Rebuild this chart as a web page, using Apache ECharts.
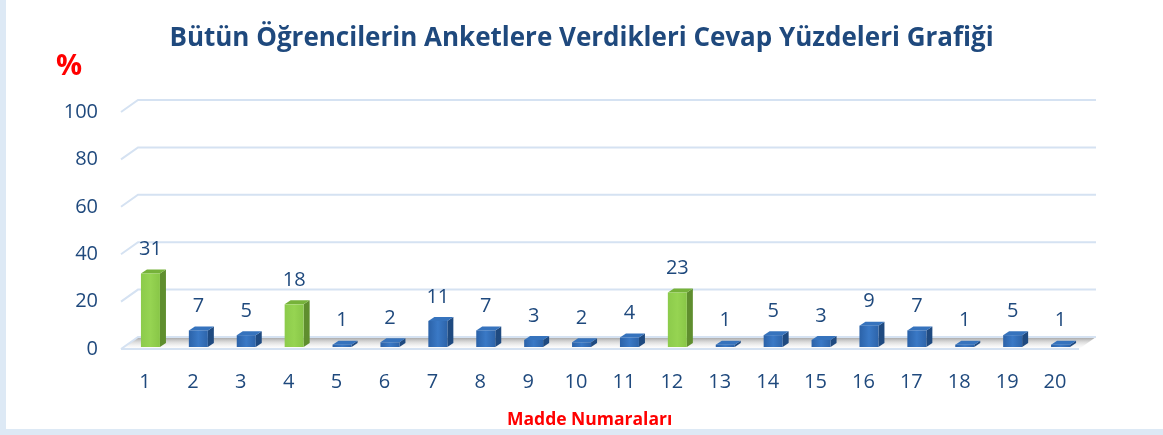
<!DOCTYPE html>
<html>
<head>
<meta charset="utf-8">
<script src="https://cdn.jsdelivr.net/npm/echarts@6/dist/echarts.min.js"></script>
<style>
  html, body { margin: 0; padding: 0; background: #fff; }
  #chart { width: 1163px; height: 435px; }
</style>
</head>
<body>
<div id="chart"></div>
<script>
// madde numaralari ve yuzdeler
var categories = ['1', '2', '3', '4', '5', '6', '7', '8', '9', '10',
  '11', '12', '13', '14', '15', '16', '17', '18', '19', '20'];
var percents = [31, 7, 5, 18, 1, 2, 11, 7, 3, 2, 4, 23, 1, 5, 3, 9, 7, 1, 5, 1];
var highlighted = ['1', '4', '12'];
var yTicks = [0, 20, 40, 60, 80, 100];

var textBlue = '#1F497D';
var gridBlue = '#d5e2f2';
var DEPTH = [17, -12];   // derinlik (arka duzlem kaymasi)
var BAR_OFF = [5.5, -2];
var BAR_HW = 9.5;
var BAR_D = [6, -4];

var chart = echarts.init(document.getElementById('chart'));

function renderGrid(params, api) {
  var cs = params.coordSys;
  var y = api.coord([0, api.value(1)])[1];
  var children = [];
  if (api.value(1) === 0) {
    children.push({
      type: 'polygon',
      shape: { points: [[cs.x, y], [cs.x + cs.width, y], [cs.x + cs.width + DEPTH[0], y + DEPTH[1]], [cs.x + DEPTH[0], y + DEPTH[1]]] },
      style: {
        fill: new echarts.graphic.LinearGradient(0, 0, 0, 1, [
          { offset: 0, color: 'rgba(140,140,140,0.85)' },
          { offset: 0.5, color: 'rgba(200,200,200,0.5)' },
          { offset: 1, color: 'rgba(255,255,255,0.2)' }
        ])
      }
    });
    children.push({
      type: 'line',
      shape: { x1: cs.x, y1: y, x2: cs.x + cs.width, y2: y },
      style: { stroke: gridBlue, lineWidth: 2 }
    });
  }
  children.push({
    type: 'polyline',
    shape: { points: [[cs.x, y], [cs.x + DEPTH[0], y + DEPTH[1]], [cs.x + cs.width + DEPTH[0], y + DEPTH[1]]] },
    style: { stroke: gridBlue, lineWidth: 2, fill: null }
  });
  return { type: 'group', children: children };
}

function renderBar(params, api) {
  var idx = api.value(0);
  var val = api.value(1);
  var p = api.coord([idx, val]);
  var base = api.coord([idx, 0]);
  var cx = p[0] + BAR_OFF[0];
  var top = p[1] + BAR_OFF[1];
  var bot = base[1] + BAR_OFF[1];
  var green = highlighted.indexOf(categories[idx]) >= 0;
  var front = green
    ? new echarts.graphic.LinearGradient(0, 0, 1, 0, [
        { offset: 0, color: '#8ccb4b' }, { offset: 0.5, color: '#96d452' }, { offset: 1, color: '#88c647' }])
    : new echarts.graphic.LinearGradient(0, 0, 1, 0, [
        { offset: 0, color: '#2b62a8' }, { offset: 0.5, color: '#3a79c6' }, { offset: 1, color: '#2d64aa' }]);
  var side = green ? '#5f8e2e' : '#1f4a80';
  var topc = green ? '#76b23a' : '#3673bd';
  return {
    type: 'group',
    children: [
      {
        type: 'polygon',
        shape: { points: [[cx + BAR_HW, top], [cx + BAR_HW + BAR_D[0], top + BAR_D[1]], [cx + BAR_HW + BAR_D[0], bot + BAR_D[1]], [cx + BAR_HW, bot]] },
        style: { fill: side }
      },
      {
        type: 'polygon',
        shape: { points: [[cx - BAR_HW, top], [cx - BAR_HW + BAR_D[0], top + BAR_D[1]], [cx + BAR_HW + BAR_D[0], top + BAR_D[1]], [cx + BAR_HW, top]] },
        style: { fill: topc }
      },
      {
        type: 'rect',
        shape: { x: cx - BAR_HW, y: top, width: BAR_HW * 2, height: bot - top },
        style: { fill: front }
      },
      {
        type: 'text',
        style: {
          text: String(val), x: cx, y: top - 14,
          align: 'center', verticalAlign: 'bottom',
          fill: textBlue, font: '20px "Open Sans"'
        }
      }
    ]
  };
}

var option = {
  animation: false,
  title: [
    {
      text: 'Bütün Öğrencilerin Anketlere Verdikleri Cevap Yüzdeleri Grafiği',
      left: 'center', top: 21,
      textStyle: { color: textBlue, fontFamily: 'Open Sans', fontWeight: 'bold', fontSize: 26 }
    },
    {
      text: '%', left: 51, top: 47,
      textStyle: { color: '#ff0000', fontFamily: 'Open Sans', fontWeight: 'bold', fontSize: 29 }
    },
    {
      text: 'Madde Numaraları', left: 502, top: 406,
      textStyle: { color: '#ff0000', fontFamily: 'Open Sans', fontWeight: 'bold', fontSize: 17.5 }
    }
  ],
  graphic: [
    { type: 'rect', shape: { x: 0, y: 0, width: 6, height: 435 }, style: { fill: '#dde9f5' } },
    { type: 'rect', shape: { x: 0, y: 429, width: 1163, height: 6 }, style: { fill: '#dde9f5' } }
  ],
  grid: { left: 121, right: 84, top: 112, bottom: 86 },
  xAxis: {
    type: 'category',
    data: categories,
    axisLine: { show: false },
    axisTick: { show: false },
    axisLabel: { color: textBlue, fontFamily: 'Open Sans', fontSize: 20, margin: 23 }
  },
  yAxis: {
    type: 'value',
    min: 0, max: 100, interval: 20,
    axisLine: { show: false },
    axisTick: { show: false },
    splitLine: { show: false },
    axisLabel: { color: textBlue, fontFamily: 'Open Sans', fontSize: 20, margin: 23, padding: [5, 0, 0, 0] }
  },
  series: [
    {
      type: 'custom',
      renderItem: renderGrid,
      clip: false,
      silent: true,
      data: yTicks.map(function (t) { return [0, t]; }),
      z: 1
    },
    {
      type: 'custom',
      renderItem: renderBar,
      clip: false,
      data: percents.map(function (v, i) { return [i, v]; }),
      z: 2
    }
  ]
};
chart.setOption(option);
</script>
</body>
</html>
